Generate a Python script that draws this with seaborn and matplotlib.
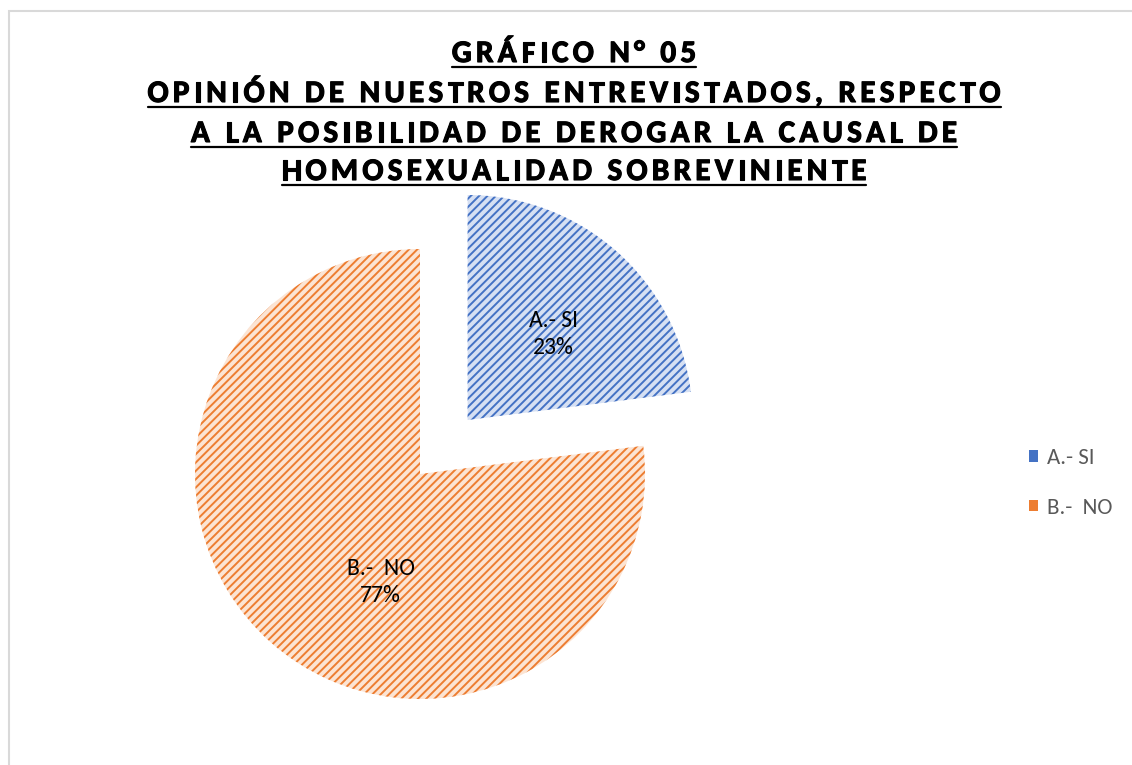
import numpy as np
import matplotlib
matplotlib.use('Agg')
import matplotlib.pyplot as plt
import matplotlib.patheffects as pe
import seaborn as sns
from matplotlib import font_manager
from matplotlib.font_manager import FontProperties
from matplotlib.patches import Patch, Rectangle
from matplotlib.lines import Line2D

# data
categories = ['A.- SI', 'B.-  NO']
percent = [23, 77]
title_lines = ['GRÁFICO N° 05',
               'OPINIÓN DE NUESTROS ENTREVISTADOS, RESPECTO',
               'A LA POSIBILIDAD DE DEROGAR LA CAUSAL DE',
               'HOMOSEXUALIDAD SOBREVINIENTE']

line_colors = ['#4472C4', '#ED7D31']
fill_colors = ['#D6E0F3', '#FCE4D3']

sns.set_style("white")
plt.rcParams['font.family'] = ['Carlito', 'DejaVu Sans']
plt.rcParams['hatch.linewidth'] = 1.4

W, H = 1132, 765
fig = plt.figure(figsize=(W / 100, H / 100), dpi=100)

# pie placed so the centre sits at (420, 474) px with a radius of 225 px
cx, cy, rad = 420, 474, 225
lo, hi = -1.05, 1.4
size = (hi - lo) * rad
ax = fig.add_axes([(cx + lo * rad) / W, (H - cy - (-lo) * rad) / H, size / W, size / H])

wedges, texts = ax.pie(percent, startangle=90, counterclock=False,
                       explode=[0.32, 0], radius=1,
                       wedgeprops=dict(linewidth=0))
for w, fc, ec in zip(wedges, fill_colors, line_colors):
    w.set_facecolor(fc)
    w.set_edgecolor(ec)
    w.set_hatch('////')
ax.set_xlim(lo, hi)
ax.set_ylim(lo, hi)
ax.set_aspect('equal')
ax.axis('off')

# data labels (angle / distance from each slice's own centre, like excel's placement)
label_angles = [45, -110]
label_dist = [0.54, 0.51]
for w, ang, r, cat, p in zip(wedges, label_angles, label_dist, categories, percent):
    ox, oy = w.center
    ax.text(ox + r * np.cos(np.radians(ang)), oy + r * np.sin(np.radians(ang)),
            '%s\n%d%%' % (cat, p), ha='center', va='center',
            fontsize=17, color='black', linespacing=1.35)

# legend
handles = [Patch(facecolor=ec, edgecolor=ec, linewidth=0) for ec in line_colors]
fig.legend(handles, categories, loc='center left',
           bbox_to_anchor=(1029 / W, 1 - 483 / H), bbox_transform=fig.transFigure,
           frameon=False, fontsize=16.5, labelcolor='#595959',
           handlelength=0.4, handleheight=0.4, handletextpad=0.4,
           labelspacing=1.3, borderpad=0, borderaxespad=0)

# title: bold, letter-spaced, underlined
tsize = 22.5
fp = FontProperties(family='Carlito', weight='bold', size=tsize)
font = font_manager.get_font(font_manager.findfont(fp))
font.set_size(tsize, 100)

def advances(s):
    out = []
    for c in s:
        g = font.load_char(ord(c))
        out.append(g.linearHoriAdvance / 65536)
    return out

ref = advances(title_lines[1])
track = (853 - sum(ref)) / (len(title_lines[1]) - 1)
baselines = [62, 102, 142, 180]
xc = 574
heavy = [pe.withStroke(linewidth=0.8, foreground='black')]
for line, yb in zip(title_lines, baselines):
    adv = advances(line)
    total = sum(adv) + track * (len(line) - 1)
    x = xc - total / 2
    x0 = x
    for c, a in zip(line, adv):
        if c != ' ':
            fig.text(x / W, 1 - yb / H, c, fontproperties=fp, ha='left',
                     va='baseline', color='black', path_effects=heavy)
        x += a + track
    fig.add_artist(Line2D([x0 / W, (x0 + total) / W], [1 - (yb + 4.5) / H] * 2,
                          transform=fig.transFigure, color='black', lw=1.6))

# chart area border (right and bottom lie outside the picture)
fig.add_artist(Rectangle((8.5 / W, -0.1), 1.2, 1.1 - 11.5 / H,
                         transform=fig.transFigure, fill=False,
                         edgecolor='#D9D9D9', lw=1.5))

fig.savefig('out.png', dpi=100)
